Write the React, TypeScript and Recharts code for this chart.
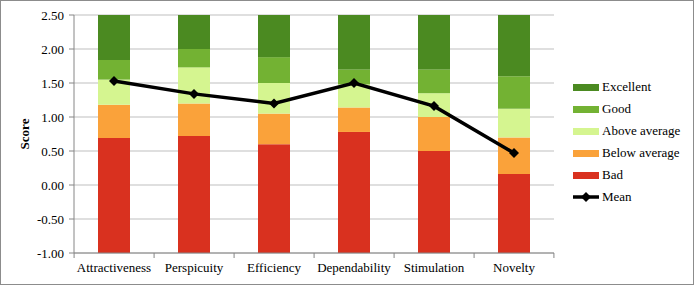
import React from "react";
import { ComposedChart, Bar, Line, XAxis, YAxis, CartesianGrid, Legend } from "recharts";

const scales = ["Attractiveness", "Perspicuity", "Efficiency", "Dependability", "Stimulation", "Novelty"];

// upper limits of each benchmark band (the bars start at -1)
const badTop = [0.69, 0.72, 0.6, 0.78, 0.5, 0.16];
const belowTop = [1.18, 1.2, 1.05, 1.14, 1.0, 0.7];
const aboveTop = [1.55, 1.73, 1.5, 1.48, 1.35, 1.12];
const goodTop = [1.84, 2.0, 1.88, 1.7, 1.7, 1.6];
const excellentTop = [2.5, 2.5, 2.5, 2.5, 2.5, 2.5];

const means = [1.53, 1.34, 1.2, 1.5, 1.16, 0.47];

const yTicks = [-1, -0.5, 0, 0.5, 1, 1.5, 2, 2.5];
const axisMin = -1;

const series = [
  { key: "bad", name: "Bad", color: "#d9311f" },
  { key: "below", name: "Below average", color: "#faa23a" },
  { key: "above", name: "Above average", color: "#d5f590" },
  { key: "good", name: "Good", color: "#73b233" },
  { key: "excellent", name: "Excellent", color: "#4b8a21" },
];

const data = scales.map((s, i) => ({
  scale: s,
  base: axisMin,
  bad: badTop[i] - axisMin,
  below: belowTop[i] - badTop[i],
  above: aboveTop[i] - belowTop[i],
  good: goodTop[i] - aboveTop[i],
  excellent: excellentTop[i] - goodTop[i],
  mean: means[i],
}));

const FONT = "'Liberation Serif', 'Times New Roman', serif";
const PLOT_W = 479;
const HALF_BAND = PLOT_W / scales.length / 2;

function XTick(props: any) {
  const { x, y, payload, index } = props;
  const axisY = y - 7;
  return (
    <g>
      <line x1={x - HALF_BAND} y1={axisY} x2={x - HALF_BAND} y2={axisY + 5} stroke="#868686" />
      {index === scales.length - 1 && (
        <line x1={x + HALF_BAND} y1={axisY} x2={x + HALF_BAND} y2={axisY + 5} stroke="#868686" />
      )}
      <text x={x} y={axisY + 19} textAnchor="middle" fontSize={13} fill="#000" fontFamily={FONT}>
        {payload.value}
      </text>
    </g>
  );
}

function Diamond(props: any) {
  const { cx, cy } = props;
  if (cx == null || cy == null) return null;
  const r = 5;
  return <polygon points={`${cx},${cy - r} ${cx + r},${cy} ${cx},${cy + r} ${cx - r},${cy}`} fill="#000" />;
}

function LegendBox() {
  const rows = [...series].reverse();
  return (
    <div style={{ fontFamily: FONT, fontSize: 13, color: "#000" }}>
      {rows.map((r) => (
        <div key={r.key} style={{ display: "flex", alignItems: "center", height: 22 }}>
          <span style={{ width: 26, height: 7, background: r.color, marginRight: 3 }} />
          <span>{r.name}</span>
        </div>
      ))}
      <div style={{ display: "flex", alignItems: "center", height: 22 }}>
        <svg width={26} height={12} style={{ marginRight: 3 }}>
          <line x1={0} y1={6} x2={26} y2={6} stroke="#000" strokeWidth={3.5} />
          <polygon points="13,1 18,6 13,11 8,6" fill="#000" />
        </svg>
        <span>Mean</span>
      </div>
    </div>
  );
}

export default function App() {
  return (
    <div
      style={{
        position: "absolute",
        left: 0,
        top: 0,
        width: 694,
        height: 285,
        boxSizing: "border-box",
        border: "1px solid #8c8c8c",
        background: "#fff",
      }}
    >
      <ComposedChart
        width={692}
        height={283}
        data={data}
        stackOffset="none"
        margin={{ top: 14, right: 139, bottom: 1, left: 0 }}
        barSize={32}
      >
        <CartesianGrid vertical={false} stroke="#bfbfbf" />
        <XAxis
          dataKey="scale"
          height={30}
          tick={<XTick />}
          tickLine={false}
          tickSize={5}
          tickMargin={2}
          axisLine={{ stroke: "#868686" }}
          interval={0}
        />
        <YAxis
          domain={[-1, 2.5]}
          ticks={yTicks}
          width={73}
          tickFormatter={(v: number) => v.toFixed(2)}
          tick={{ fontSize: 13, fill: "#000", fontFamily: FONT }}
          tickSize={5}
          tickMargin={5}
          tickLine={{ stroke: "#868686" }}
          axisLine={{ stroke: "#868686" }}
          label={{
            value: "Score",
            angle: -90,
            position: "center",
            dx: -13,
            style: { fontSize: 13, fontWeight: "bold", fill: "#000", fontFamily: FONT },
          }}
        />
        <Bar dataKey="base" stackId="a" fill="transparent" legendType="none" isAnimationActive={false} />
        {series.map((s) => (
          <Bar key={s.key} dataKey={s.key} name={s.name} stackId="a" fill={s.color} isAnimationActive={false} />
        ))}
        <Line
          dataKey="mean"
          name="Mean"
          stroke="#000"
          strokeWidth={3.5}
          dot={<Diamond />}
          activeDot={false}
          isAnimationActive={false}
        />
        <Legend
          layout="horizontal"
          verticalAlign="middle"
          align="center"
          wrapperStyle={{ left: 572, top: 75, width: 120 }}
          content={() => <LegendBox />}
        />
      </ComposedChart>
    </div>
  );
}
